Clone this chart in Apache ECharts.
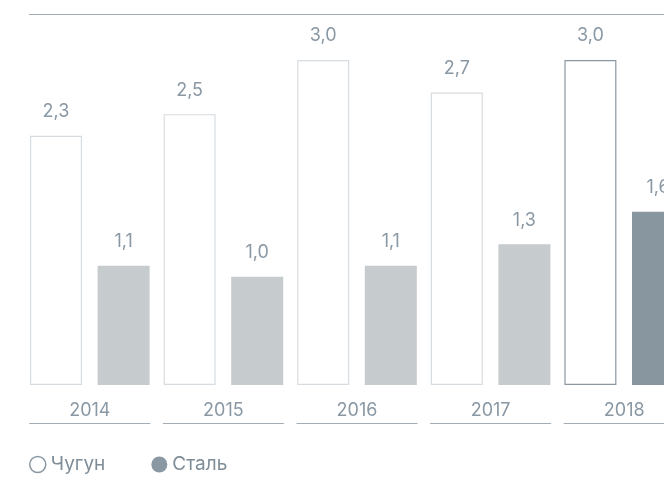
<!DOCTYPE html>
<html>
<head>
<meta charset="utf-8">
<script src="https://cdn.jsdelivr.net/npm/echarts@6/dist/echarts.min.js"></script>
<style>
html, body { margin: 0; padding: 0; background: #fff; }
#container { width: 664px; height: 477px; }
</style>
</head>
<body>
<div id="container"></div>
<script>
var years = ['2014', '2015', '2016', '2017', '2018'];
var pigIron = [2.3, 2.5, 3.0, 2.7, 3.0];
var steel = [1.1, 1.0, 1.1, 1.3, 1.6];
var seriesNames = ['Чугун', 'Сталь'];

var textColor = '#8a98a4';
var fontName = 'Inter';
var lastIdx = years.length - 1;

function fmt(p) {
	return p.value.toFixed(1).replace('.', ',');
}

var ironData = pigIron.map(function (v, i) {
	return {
		value: v,
		itemStyle: { color: '#fff', borderColor: i === lastIdx ? '#8a98a4' : '#d7dce0', borderWidth: 1.2 }
	};
});
var steelData = steel.map(function (v, i) {
	return { value: v, itemStyle: { color: i === lastIdx ? '#87969f' : '#c6cbce' } };
});

var dom = document.getElementById('container');
var myChart = echarts.init(dom);
var option = {
	animation: false,
	textStyle: { fontFamily: fontName },
	grid: { left: 23, width: 668, top: 60, bottom: 92, containLabel: false, outerBoundsMode: 'none' },
	legend: {
		left: 24,
		top: 450,
		icon: 'circle',
		itemWidth: 16,
		itemHeight: 16,
		itemGap: 46,
		textStyle: { color: '#7f8d98', fontSize: 19, fontFamily: fontName },
		data: [
			{ name: seriesNames[0], itemStyle: { color: '#fff', borderColor: '#8a98a4', borderWidth: 1.5 } },
			{ name: seriesNames[1], itemStyle: { color: '#8a98a4' } }
		]
	},
	graphic: [{
		type: 'line',
		shape: { x1: 29, y1: 14.5, x2: 664, y2: 14.5 },
		style: { stroke: '#a3adb6', lineWidth: 1.2 }
	}],
	xAxis: {
		type: 'category',
		data: years,
		axisLine: { show: false },
		axisTick: { show: false },
		axisLabel: { color: textColor, fontSize: 18, margin: 17, fontFamily: fontName }
	},
	yAxis: {
		type: 'value',
		min: 0,
		max: 3,
		show: false,
		splitLine: { show: false }
	},
	series: [
		{
			name: seriesNames[0],
			type: 'bar',
			barWidth: 52,
			barGap: '30%',
			data: ironData,
			label: { show: true, position: 'top', distance: 15, color: textColor, fontSize: 18, formatter: fmt }
		},
		{
			name: seriesNames[1],
			type: 'bar',
			barWidth: 52,
			data: steelData,
			label: { show: true, position: 'top', distance: 15, color: textColor, fontSize: 18, formatter: fmt }
		},
		{
			type: 'custom',
			silent: true,
			legendHoverLink: false,
			data: years.map(function (y, i) { return [i, 0]; }),
			renderItem: function (params, api) {
				var pt = api.coord([api.value(0), 0]);
				var half = 60.5;
				return {
					type: 'line',
					shape: { x1: pt[0] - half, y1: pt[1] + 38.5, x2: pt[0] + half, y2: pt[1] + 38.5 },
					style: { stroke: '#a3adb6', lineWidth: 1.2 }
				};
			}
		}
	]
};
myChart.setOption(option);
</script>
</body>
</html>
